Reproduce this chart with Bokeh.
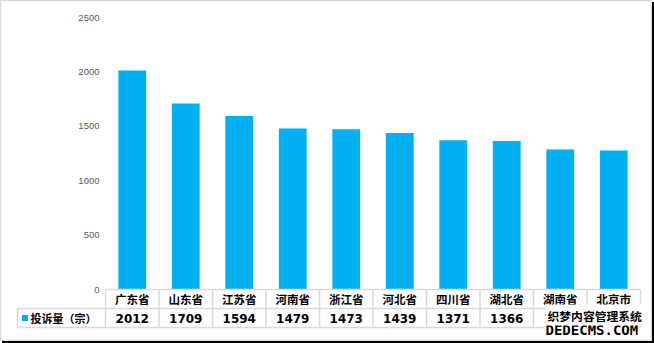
from bokeh.plotting import figure
from bokeh.models import LinearAxis, FixedTicker, Range1d, Label
from bokeh.core.properties import value
from bokeh.embed import file_html
from bokeh.resources import INLINE

# ---- data ----
provinces = ["广东省", "山东省", "江苏省", "河南省", "浙江省",
             "河北省", "四川省", "湖北省", "湖南省", "北京市"]
complaints = [2012, 1709, 1594, 1479, 1473, 1439, 1371, 1366, 1286, 1277]
yticks = [0, 500, 1000, 1500, 2000, 2500]
series_name = "投诉量（宗）"
watermark_cn = "织梦内容管理系统"
watermark_en = "DEDECMS.COM"

# ---- layout constants (pixels) ----
W, H = 652, 341
plot_left = 105          # px where the first category column starts
cat_px = 53.5            # px per category
base_px = 289            # px of value 0
unit_px = 272 / 2500     # px per value unit
row_px = 19              # table row height
head_left_px = 17        # left edge of header cell

BLUE = "#00b0f0"
GRID = "#d9d9d9"

x_start = -plot_left / cat_px
x_end = (W - plot_left) / cat_px
y_end = base_px / unit_px
y_start = -(H - base_px) / unit_px
row_h = row_px / unit_px
head_left = (head_left_px - plot_left) / cat_px
n = len(provinces)

p = figure(width=W, height=H, x_range=Range1d(x_start, x_end),
           y_range=Range1d(y_start, y_end), output_backend="svg",
           toolbar_location=None, x_axis_location=None, y_axis_location=None,
           min_border=0, styles={"box-shadow": "2px 2px 0 0 #000"})
p.grid.visible = False
p.xgrid.visible = False
p.ygrid.visible = False
p.outline_line_color = GRID
p.outline_line_width = 1.5
p.background_fill_color = "white"
p.border_fill_color = "white"

# y axis at the left edge of the category area
yax = LinearAxis(fixed_location=0, ticker=FixedTicker(ticks=yticks))
yax.axis_line_color = None
yax.major_tick_line_color = None
yax.minor_tick_line_color = None
yax.major_tick_out = 0
yax.major_tick_in = 0
yax.major_label_standoff = 6
yax.major_label_text_font = "Liberation Sans"
yax.major_label_text_font_size = "9.5px"
yax.major_label_text_color = "#595959"
p.add_layout(yax, "left")

xs = [i + 0.5 for i in range(n)]

# bars
p.vbar(x=xs, top=complaints, bottom=0, width=0.52, fill_color=BLUE, line_color=None)

# data table lines
hx0 = [0, head_left, head_left]
hy = [0, -row_h, -2 * row_h]
p.segment(x0=hx0, y0=hy, x1=[n] * 3, y1=hy, line_color=GRID, line_width=1.5)
vx = list(range(n + 1))
p.segment(x0=vx, y0=[0] * len(vx), x1=vx, y1=[-2 * row_h] * len(vx),
          line_color=GRID, line_width=1.5)
p.segment(x0=[head_left], y0=[-row_h], x1=[head_left], y1=[-2 * row_h],
          line_color=GRID, line_width=1.5)

# table texts
p.text(x=xs, y=[-row_h / 2] * n, text=provinces, text_align="center",
       text_baseline="middle", text_font=value("Noto Sans CJK SC"),
       text_font_size="11.5px", text_font_style="bold", text_color="#000000")
p.text(x=xs, y=[-1.5 * row_h] * n, text=[str(v) for v in complaints],
       text_align="center", text_baseline="middle",
       text_font=value("DejaVu Sans"), text_font_size="12px",
       text_font_style="bold", text_color="#000000")

# legend key + series name
sw_x = (24.5 - plot_left) / cat_px
p.scatter(x=[sw_x], y=[-1.5 * row_h], marker="square", size=6,
          fill_color=BLUE, line_color=None)
p.text(x=[(30 - plot_left) / cat_px], y=[-1.5 * row_h], text=[series_name],
       text_align="left", text_baseline="middle",
       text_font=value("Noto Sans CJK SC"), text_font_size="11px",
       text_font_style="bold", text_color="#000000")

# watermark
wm_x = (545 - plot_left) / cat_px
p.add_layout(Label(x=wm_x, y=-(329 - base_px) / unit_px, text=watermark_en,
                   text_baseline="middle", text_font="DejaVu Sans Mono",
                   text_font_size="14px", text_font_style="bold",
                   text_color="#000000", background_fill_color="white",
                   padding=0))
p.add_layout(Label(x=wm_x, y=-(314.5 - base_px) / unit_px, text=watermark_cn,
                   text_baseline="middle", text_font="Noto Sans CJK SC",
                   text_font_size="11.8px", text_font_style="bold",
                   text_color="#000000", background_fill_color="white",
                   padding=2))

open("out.html", "w").write(file_html(p, INLINE))
